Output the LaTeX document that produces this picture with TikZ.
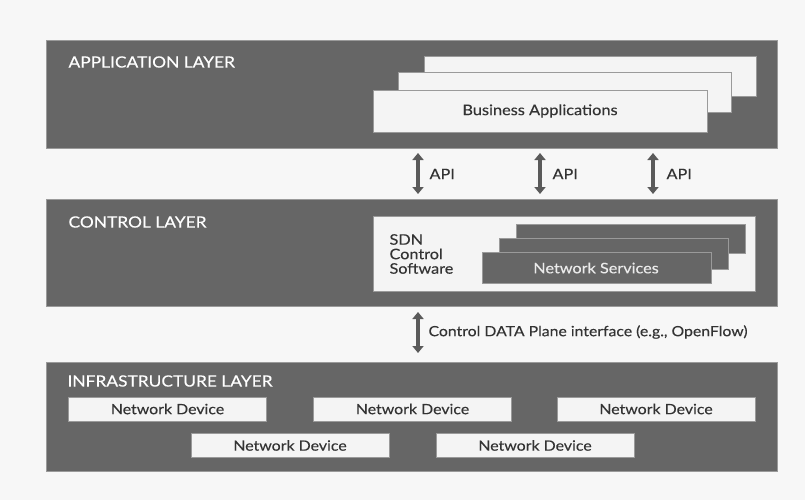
\documentclass[tikz,border=0pt]{standalone}
\usepackage{fontspec}
\setmainfont{Lato}[FakeStretch=1.12,FakeBold=0.25]
\usetikzlibrary{arrows.meta}
\definecolor{layergray}{HTML}{666666}
\definecolor{bordergray}{HTML}{9A9A9A}
\definecolor{boxwhite}{HTML}{F4F4F4}
\definecolor{arrowgray}{HTML}{5A5A5A}
\definecolor{txtdark}{HTML}{333333}
\begin{document}
\begin{tikzpicture}[x=1pt,y=-1pt,
  layer/.style={fill=layergray,draw=bordergray,line width=1pt},
  title/.style={anchor=west,text=white,font=\fontsize{15.5}{17}\selectfont},
  wbox/.style={fill=boxwhite,draw=bordergray,line width=0.8pt},
  dbox/.style={fill=layergray,draw=bordergray,line width=0.8pt},
  devbox/.style={fill=boxwhite,draw=bordergray,line width=0.6pt,minimum width=198pt,minimum height=24pt,inner sep=0pt,text=txtdark,font=\fontsize{14.2}{16}\selectfont},
  dblarrow/.style={arrowgray,line width=3.5pt,{Triangle[width=11pt,length=7pt]}-{Triangle[width=11pt,length=7pt]}},
  lbl/.style={anchor=west,text=txtdark,font=\fontsize{14.5}{16}\selectfont}]
\useasboundingbox (0,0) rectangle (805,500);
\fill[white!97!black] (0,0) rectangle (805,500);
% application layer
\draw[layer] (46,41) rectangle (777,148);
\node[title] (apptitle) at (65,62) {APPLICATION LAYER};
\draw[wbox] (424,56) rectangle (756,96);
\draw[wbox] (398,72) rectangle (731,112);
\draw[wbox] (373,90) rectangle (707,132);
\node[text=txtdark,font=\fontsize{14.6}{16}\selectfont] (bizapp) at (540,111) {Business Applications};
% control layer
\draw[layer] (46,199) rectangle (777,306);
\node[title] (ctltitle) at (65,222) {CONTROL LAYER};
\draw[wbox] (373,216) rectangle (755,291);
\node[anchor=west,align=left,text=txtdark,font=\fontsize{14.5}{14.5}\selectfont] (sdn) at (386,254) {SDN\\Control\\Software};
\draw[dbox] (516,224) rectangle (745,253);
\draw[dbox] (499,238) rectangle (728,269);
\draw[dbox] (482,252) rectangle (711,283);
\node[text=white!92!black,font=\fontsize{14.5}{16}\selectfont] (netsvc) at (596,268) {Network Services};
% API arrows
\coordinate (a1t) at (418,153); \coordinate (a1b) at (418,194);
\coordinate (a2t) at (540,153); \coordinate (a2b) at (540,194);
\coordinate (a3t) at (653,153); \coordinate (a3b) at (653,194);
\draw[dblarrow] (a1t) -- (a1b);
\draw[dblarrow] (a2t) -- (a2b);
\draw[dblarrow] (a3t) -- (a3b);
\node[lbl] (api1) at (426,174) {API};
\node[lbl] (api2) at (549,174) {API};
\node[lbl] (api3) at (663,174) {API};
% control data plane arrow
\coordinate (c1t) at (418,312); \coordinate (c1b) at (418,353);
\draw[dblarrow] (c1t) -- (c1b);
\node[lbl,font=\fontsize{14.1}{16}\selectfont] (cdpi) at (425,332) {Control DATA Plane interface (e.g., OpenFlow)};
% infrastructure layer
\draw[layer] (46,362) rectangle (777,471);
\node[title] (inftitle) at (64,381) {INFRASTRUCTURE LAYER};
\node[devbox] (d1) at (167.5,409) {Network Device};
\node[devbox] (d2) at (412.5,409) {Network Device};
\node[devbox] (d3) at (656,409) {Network Device};
\node[devbox] (d4) at (290,445.5) {Network Device};
\node[devbox] (d5) at (535,445.5) {Network Device};
\end{tikzpicture}
\end{document}
